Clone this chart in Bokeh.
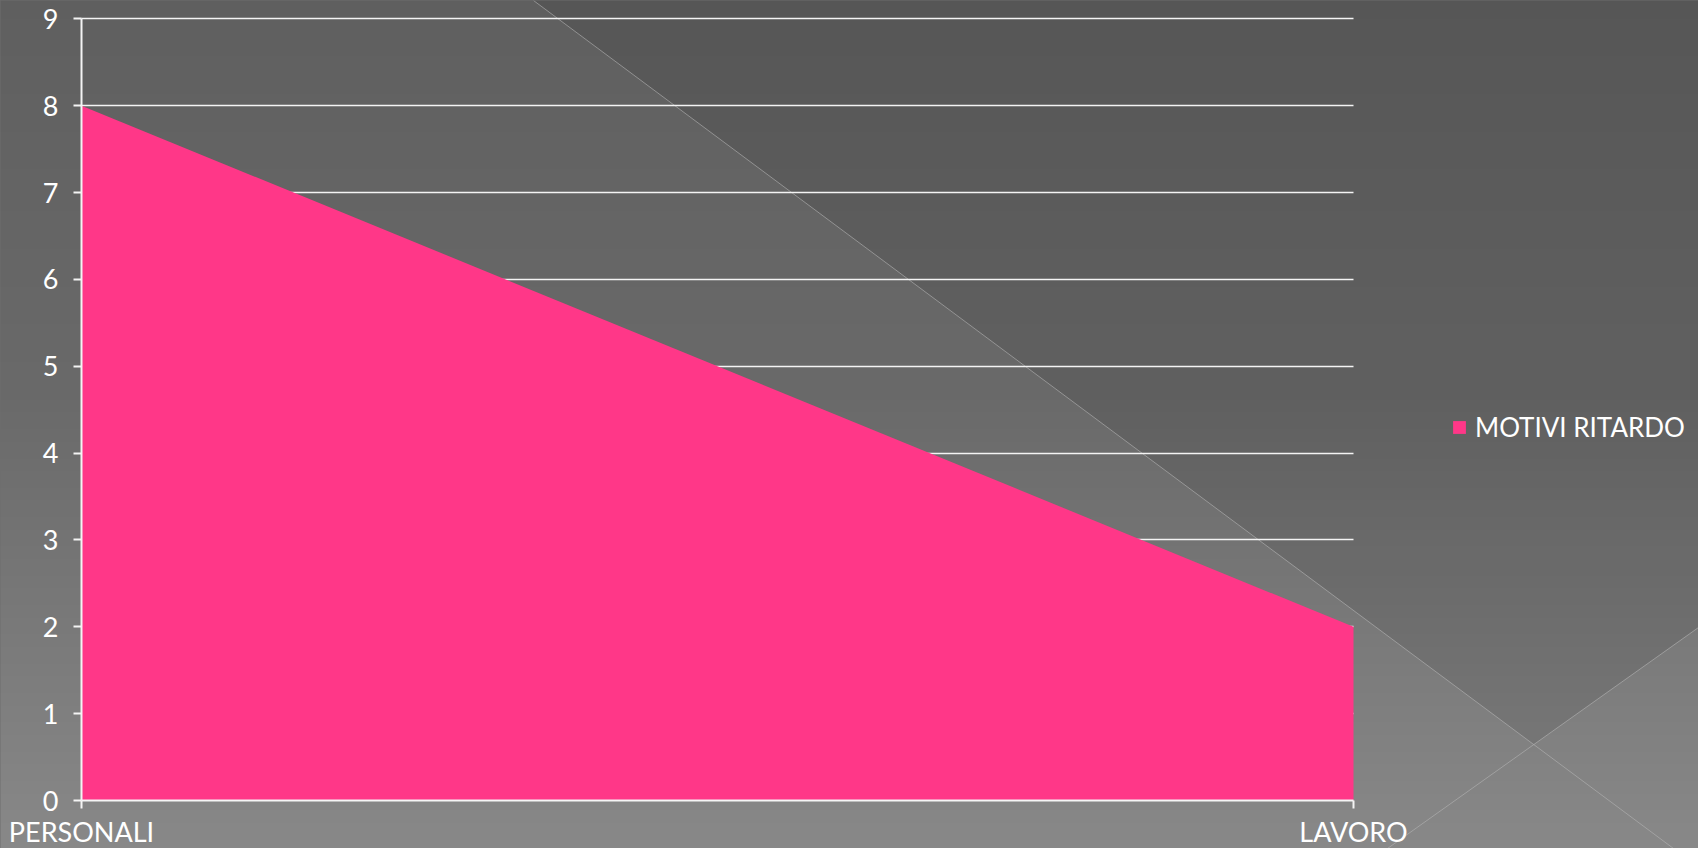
import numpy as np
from bokeh.plotting import figure
from bokeh.models import Range1d, FixedTicker, LinearAxis, Legend, LegendItem, Grid
from bokeh.embed import file_html
from bokeh.resources import INLINE

# ---- data ----
categories = ["PERSONALI", "LAVORO"]
series_name = "MOTIVI RITARDO"
series_values = [8, 2]
y_ticks = [0, 1, 2, 3, 4, 5, 6, 7, 8, 9]

# ---- layout (pixels) ----
W, H = 1698, 848
X0_PX, X1_PX = 81.0, 1353.0      # pixel x of first / last category
Y0_PX, Y9_PX = 800.0, 18.3       # pixel y of value 0 / value 9
sx = (X1_PX - X0_PX) / 1.0
sy = (Y0_PX - Y9_PX) / 9.0

def dx(px):
    return (px - X0_PX) / sx

def dy(py):
    return (Y0_PX - py) / sy

xs = list(range(len(categories)))

FONT = "Lato"
FS = "27px"
TXT = "#ffffff"
PINK = "#FF3788"

p = figure(width=W, height=H, x_range=Range1d(dx(0), dx(W)), y_range=Range1d(dy(H), dy(0)),
           output_backend="svg", toolbar_location=None, min_border=0,
           x_axis_type=None, y_axis_type=None)
p.outline_line_color = None
p.background_fill_color = "#6e6e6e"
p.border_fill_color = "#6e6e6e"

# ---- background gradient ----
n = 212
rows_py = H - (np.arange(n) + 0.5) * H / n
g = np.interp(rows_py, [0, 400, 848], [95, 106, 138]).astype(np.uint8)
img = np.empty((n, 4), dtype=np.uint32)
view = img.view(dtype=np.uint8).reshape((n, 4, 4))
for c in range(3):
    view[:, :, c] = g[:, None]
view[:, :, 3] = 255
p.image_rgba(image=[img], x=dx(-20), y=dy(H + 20), dw=dx(W + 20) - dx(-20), dh=dy(-20) - dy(H + 20), level="image")

# decorative lines (pixel endpoints)
L1 = ((533.0, 0.0), (1673.0, 848.0))
L2 = ((1698.0, 627.0), (1387.0, 848.0))

def x_on(line, py):
    (ax_, ay_), (bx_, by_) = line
    return ax_ + (py - ay_) * (bx_ - ax_) / (by_ - ay_)

def y_on(line, px):
    (ax_, ay_), (bx_, by_) = line
    return ay_ + (px - ax_) * (by_ - ay_) / (bx_ - ax_)

# intersection of L1 and L2
(a1x, a1y), (b1x, b1y) = L1
(a2x, a2y), (b2x, b2y) = L2
d = (a1x - b1x) * (a2y - b2y) - (a1y - b1y) * (a2x - b2x)
ix = ((a1x * b1y - a1y * b1x) * (a2x - b2x) - (a1x - b1x) * (a2x * b2y - a2y * b2x)) / d
iy = ((a1x * b1y - a1y * b1x) * (a2y - b2y) - (a1y - b1y) * (a2x * b2y - a2y * b2x)) / d

poly_px = [(x_on(L1, -5), -5), (W + 5, -5), (W + 5, y_on(L2, W + 5)), (ix, iy)]
p.patch([dx(a) for a, b in poly_px], [dy(b) for a, b in poly_px],
        fill_color="black", fill_alpha=0.085, line_color=None, level="image")

for ln in (L1, L2):
    (ax_, ay_), (bx_, by_) = ln
    p.line([dx(ax_), dx(bx_)], [dy(ay_), dy(by_)], line_color="#b4b4b4", line_alpha=0.6,
           line_width=1, level="image")

# ---- grid ----
ygrid = Grid(dimension=1, ticker=FixedTicker(ticks=y_ticks[1:]), grid_line_color="#f4f4f4", grid_line_width=1.6)
try:
    ygrid.cross_bounds = (0, 1)
    p.add_layout(ygrid)
except Exception:
    for t in y_ticks[1:]:
        p.segment(x0=[0], y0=[t], x1=[len(categories) - 1], y1=[t],
                  line_color="#f4f4f4", line_width=1.6, level="underlay")

# ---- area ----
area = p.varea(x=xs, y1=[0] * len(xs), y2=series_values, fill_color=PINK)

# ---- axes ----
yaxis = LinearAxis(ticker=FixedTicker(ticks=y_ticks), fixed_location=0, bounds=(0, 9))
xaxis = LinearAxis(ticker=FixedTicker(ticks=xs), fixed_location=0, bounds=(0, len(xs) - 1),
                   major_label_overrides={i: c for i, c in enumerate(categories)})
for ax in (yaxis, xaxis):
    ax.axis_line_color = "#f4f4f4"
    ax.axis_line_width = 2
    ax.major_tick_line_color = "#f4f4f4"
    ax.major_tick_line_width = 2
    ax.major_tick_out = 8
    ax.major_tick_in = 0
    ax.minor_tick_line_color = None
    ax.major_label_text_font = FONT
    ax.major_label_text_font_size = FS
    ax.major_label_text_color = TXT
yaxis.major_label_standoff = 15
xaxis.major_label_standoff = 6
p.add_layout(yaxis, "left")
p.add_layout(xaxis, "below")

# ---- legend ----
legend = Legend(items=[LegendItem(label=series_name, renderers=[area])], location=(1451, 405),
                padding=0, margin=0, spacing=0, glyph_width=16, glyph_height=16,
                label_height=16, label_standoff=8,
                label_text_font=FONT, label_text_font_size="26px", label_text_color=TXT,
                background_fill_alpha=0, border_line_color=None)
p.add_layout(legend)

html = file_html(p, INLINE)
html = html.replace("<head>", "<head><style>html,body{margin:0;padding:0;overflow:hidden;background:#6e6e6e;}</style>", 1)
open("out.html", "w").write(html)
